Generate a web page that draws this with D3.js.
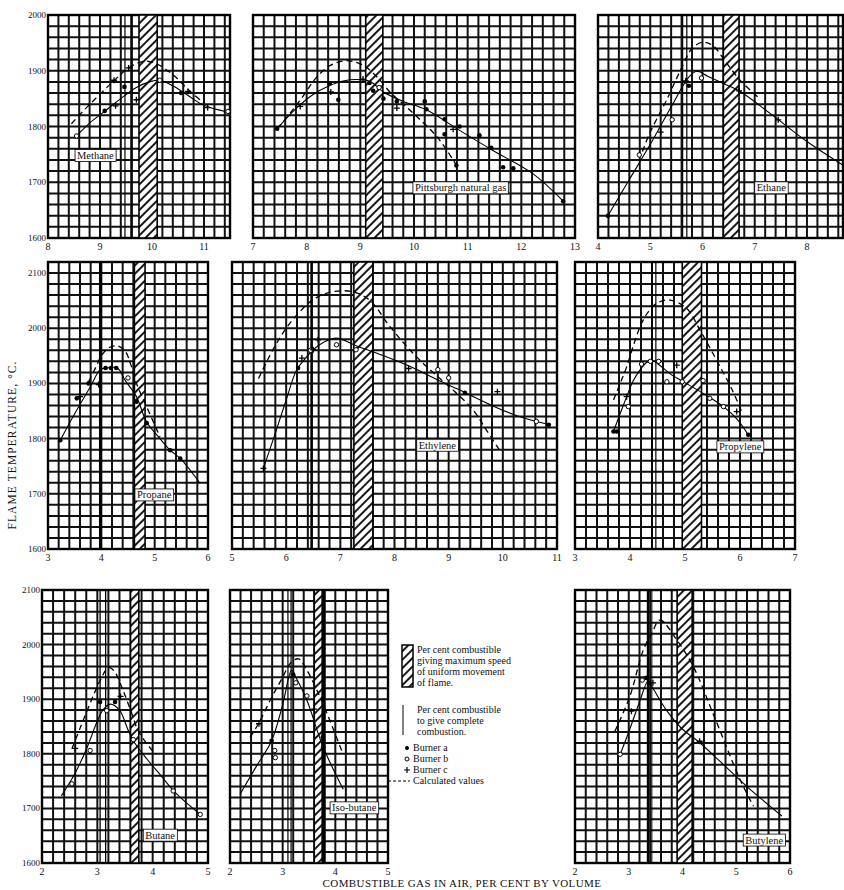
<!DOCTYPE html>
<html>
<head>
<meta charset="UTF-8">
<title>Flame temperatures</title>
<script src="https://cdn.jsdelivr.net/npm/d3@7"></script>
<style>
body { margin:0; background:#fff; }
text { font-family: "Liberation Serif", "DejaVu Serif", serif; fill:#111; }
</style>
</head>
<body>
<script>
// observed (solid) and calculated (dashed) curves, [per cent gas, deg C]
var methaneCurve = [[8.55,1783],[8.8,1806],[9.1,1828],[9.4,1850],[9.7,1870],[9.95,1880],[10.15,1883],[10.4,1873],[10.7,1855],[11.0,1838],[11.45,1826]];
var methaneCalc = [[8.45,1805],[8.7,1830],[9.0,1858],[9.3,1885],[9.55,1905],[9.85,1917],[10.1,1912],[10.4,1893],[10.7,1866],[11.0,1842]];
var methaneA = [[9.47,1871],[10.56,1860],[9.09,1828]];
var methaneB = [[8.55,1783],[11.46,1827],[10.15,1883]];
var methaneC = [[9.27,1883],[9.3,1837],[9.7,1848],[10.69,1863],[11.07,1834],[9.55,1905]];

var pittsCurve = [[7.45,1796],[7.8,1832],[8.1,1856],[8.4,1872],[8.7,1882],[9.0,1884],[9.2,1880],[9.43,1862],[9.8,1845],[10.23,1830],[10.85,1793],[11.47,1757],[12.22,1715],[12.78,1666]];
var pittsCalc = [[7.45,1796],[7.7,1825],[7.9,1850],[8.2,1890],[8.45,1910],[8.75,1918],[9.05,1910],[9.3,1890],[9.55,1862],[9.8,1840],[10.05,1818],[10.3,1795],[10.5,1773],[10.78,1732]];
var pittsA = [[7.45,1796],[8.43,1877],[8.59,1848],[9.17,1878],[9.24,1864],[9.43,1850],[9.68,1845],[10.2,1845],[10.23,1831],[10.57,1813],[10.57,1786],[10.85,1800],[11.22,1784],[11.44,1762],[11.66,1727],[11.85,1725],[10.79,1730],[12.78,1666]];
var pittsB = [[9.35,1870]];
var pittsC = [[7.88,1836],[8.45,1862],[9.05,1885],[9.68,1833],[10.73,1795]];

var ethaneCurve = [[4.19,1640],[4.6,1705],[5.0,1768],[5.4,1835],[5.75,1890],[5.9,1899],[6.1,1890],[6.4,1877],[6.7,1864],[7.3,1823],[8.0,1773],[8.7,1730]];
var ethaneCalc = [[4.85,1755],[5.0,1790],[5.3,1845],[5.6,1905],[5.8,1940],[6.0,1951],[6.2,1945],[6.45,1915],[6.75,1880],[7.1,1850]];
var ethaneA = [[5.74,1873],[4.19,1640]];
var ethaneB = [[4.79,1749],[5.42,1812],[5.98,1887]];
var ethaneC = [[5.68,1882],[5.2,1790],[6.7,1864],[7.45,1812]];

var propaneCurve = [[3.23,1797],[3.5,1845],[3.8,1895],[3.98,1925],[4.1,1928],[4.3,1928],[4.45,1905],[4.66,1876],[4.85,1830],[5.1,1800],[5.29,1779],[5.48,1764],[5.85,1719]];
var propaneCalc = [[3.76,1903],[3.9,1930],[4.0,1950],[4.15,1965],[4.3,1968],[4.45,1958],[4.55,1935],[4.66,1900],[4.85,1858],[5.1,1803]];
var propaneA = [[3.23,1797],[3.54,1873],[3.76,1900],[4.08,1928],[4.18,1928],[4.28,1928],[4.66,1867],[4.85,1828],[5.29,1779],[5.48,1764]];
var propaneB = [[4.5,1910]];
var propaneC = [[3.6,1876],[3.95,1898]];

var ethyleneCurve = [[5.58,1746],[5.8,1810],[6.0,1870],[6.19,1924],[6.35,1945],[6.5,1961],[6.7,1975],[6.93,1982],[7.3,1968],[7.8,1950],[8.35,1928],[8.8,1906],[9.27,1885],[9.8,1860],[10.3,1840],[10.87,1825]];
var ethyleneCalc = [[5.49,1909],[5.75,1960],[6.0,2000],[6.3,2035],[6.55,2055],[6.85,2066],[7.24,2066],[7.55,2050],[7.9,2005],[8.2,1970],[8.47,1942],[8.8,1912],[9.08,1888],[9.45,1852],[9.7,1815],[9.94,1779]];
var ethyleneA = [[6.22,1928],[9.3,1883],[10.85,1825]];
var ethyleneB = [[6.93,1970],[7.29,1961],[8.8,1925],[9.0,1910],[10.62,1831],[6.45,1960]];
var ethyleneC = [[6.29,1946],[6.5,1961],[6.59,1979],[8.26,1927],[9.9,1885],[5.58,1746]];

var propyleneCurve = [[3.7,1813],[3.82,1845],[3.94,1876],[4.05,1903],[4.18,1924],[4.3,1938],[4.4,1942],[4.55,1932],[4.75,1916],[4.97,1903],[5.33,1882],[5.7,1858],[5.95,1835],[6.15,1807]];
var propyleneCalc = [[3.7,1870],[3.82,1900],[3.94,1930],[4.05,1965],[4.21,2009],[4.35,2032],[4.5,2046],[4.73,2051],[5.03,2036],[5.27,1997],[5.45,1965],[5.64,1930],[5.85,1890],[6.03,1849]];
var propyleneA = [[3.7,1813],[3.76,1813],[6.15,1807]];
var propyleneB = [[3.97,1858],[4.21,1935],[4.37,1940],[4.52,1940],[4.67,1903],[4.95,1903],[5.33,1905],[5.45,1873],[5.7,1858]];
var propyleneC = [[3.94,1876],[4.85,1933],[5.94,1849]];

var butaneCurve = [[2.35,1723],[2.6,1765],[2.8,1808],[3.0,1860],[3.1,1880],[3.23,1891],[3.4,1880],[3.55,1845],[3.65,1824],[3.9,1790],[4.15,1760],[4.4,1730],[4.86,1689]];
var butaneCalc = [[2.54,1809],[2.7,1850],[2.9,1900],[3.05,1934],[3.2,1958],[3.3,1952],[3.45,1920],[3.6,1880],[3.75,1840],[4.04,1800]];
var butaneA = [[3.05,1895],[3.32,1895]];
var butaneB = [[2.54,1745],[2.87,1806],[3.17,1879],[3.65,1826],[4.37,1732],[4.86,1689]];
var butaneC = [[3.42,1905],[2.6,1810]];

var isoCurve = [[2.19,1726],[2.5,1777],[2.79,1824],[3.0,1890],[3.17,1953],[3.25,1940],[3.46,1898],[3.77,1812],[4.15,1735]];
var isoCalc = [[2.38,1830],[2.54,1855],[2.8,1905],[3.0,1940],[3.14,1965],[3.3,1974],[3.45,1955],[3.71,1904],[3.9,1860],[4.12,1806]];
var isoA = [[2.79,1824],[3.2,1945],[3.76,1830],[3.77,1812]];
var isoB = [[2.85,1806],[2.86,1793],[3.25,1930],[3.46,1906]];
var isoC = [[2.55,1855],[3.6,1882]];

var butyleneCurve = [[2.84,1799],[3.0,1840],[3.2,1895],[3.36,1933],[3.45,1920],[3.7,1880],[4.0,1845],[4.29,1823],[4.7,1786],[5.2,1740],[5.85,1686]];
var butyleneCalc = [[2.74,1841],[3.02,1905],[3.27,1990],[3.43,2021],[3.58,2045],[3.89,2009],[4.2,1960],[4.6,1866],[5.07,1753],[5.32,1704]];
var butyleneA = [[3.33,1939],[3.38,1930]];
var butyleneB = [[2.84,1799],[3.25,1935]];
var butyleneC = [[3.05,1878],[4.32,1823],[3.45,1930]];

var legendSpeed = ["Per cent combustible", "giving maximum speed", "of uniform movement", "of flame."];
var legendComplete = ["Per cent combustible", "to give complete", "combustion."];
var legendBurners = ["Burner a", "Burner b", "Burner c"];

window.onload = function(){
	var width = 844, height = 890;
	var svg = d3.select("body").append("svg").attr("width", width).attr("height", height);

	var defs = svg.append("defs");
	var pat = defs.append("pattern").attr("id","hatch").attr("patternUnits","userSpaceOnUse")
		.attr("width",6).attr("height",6).attr("patternTransform","rotate(45)");
	pat.append("rect").attr("width",6).attr("height",6).attr("fill","#fff");
	pat.append("line").attr("x1",1).attr("y1",0).attr("x2",1).attr("y2",6).attr("stroke","#000").attr("stroke-width",1.8);

	// layout of the nine small grids
	var panels = [
		{name:"Methane", curve:methaneCurve, calc:methaneCalc, pts:[methaneA,methaneB,methaneC], box:[48,230,15,238], xDom:[8,11.5], yDom:[1600,2000], xTicks:[8,9,10,11], yAxis:true, band:[9.75,10.1], lines:[[9.48,1.2],[9.62,1.2]], label:[8.52,1748]},
		{name:"Pittsburgh natural gas", curve:pittsCurve, calc:pittsCalc, pts:[pittsA,pittsB,pittsC], box:[253,575,15,238], xDom:[7,13], yDom:[1600,2000], xTicks:[7,8,9,10,11,12,13], band:[9.1,9.42], lines:[], label:[9.98,1690]},
		{name:"Ethane", curve:ethaneCurve, calc:ethaneCalc, pts:[ethaneA,ethaneB,ethaneC], box:[598,843,15,238], xDom:[4,8.69], yDom:[1600,2000], xTicks:[4,5,6,7,8], band:[6.4,6.7], lines:[[5.62,1.2],[5.7,1.2]], label:[7.0,1690]},
		{name:"Propane", curve:propaneCurve, calc:propaneCalc, pts:[propaneA,propaneB,propaneC], box:[48,208,262,549], xDom:[3,6], yDom:[1600,2120], xTicks:[3,4,5,6], yAxis:true, band:[4.62,4.82], lines:[[3.98,2.6]], label:[4.63,1698]},
		{name:"Ethylene", curve:ethyleneCurve, calc:ethyleneCalc, pts:[ethyleneA,ethyleneB,ethyleneC], box:[232,557,262,549], xDom:[5,11], yDom:[1600,2120], xTicks:[5,6,7,8,9,10,11], band:[7.25,7.6], lines:[[6.47,2.6]], label:[8.41,1788]},
		{name:"Propylene", curve:propyleneCurve, calc:propyleneCalc, pts:[propyleneA,propyleneB,propyleneC], box:[575,795,262,549], xDom:[3,7], yDom:[1600,2120], xTicks:[3,4,5,6,7], band:[4.95,5.3], lines:[[4.4,1.2],[4.47,1.2]], label:[5.58,1785]},
		{name:"Butane", curve:butaneCurve, calc:butaneCalc, pts:[butaneA,butaneB,butaneC], box:[42,208,590,863], xDom:[2,5], yDom:[1600,2100], xTicks:[2,3,4,5], yAxis:true, band:[3.6,3.75], lines:[[3.05,1.3],[3.15,1.3]], label:[3.83,1651]},
		{name:"Iso-butane", curve:isoCurve, calc:isoCalc, pts:[isoA,isoB,isoC], box:[230,388,590,863], xDom:[2,5], yDom:[1600,2100], xTicks:[2,3,4,5], band:[3.6,3.75], lines:[[3.1,1.2],[3.16,1.2],[3.78,2.6]], label:[3.9,1701]},
		{name:"Butylene", curve:butyleneCurve, calc:butyleneCalc, pts:[butyleneA,butyleneB,butyleneC], box:[575,790,590,863], xDom:[2,6], yDom:[1600,2100], xTicks:[2,3,4,5,6], band:[3.9,4.18], lines:[[3.36,2.6],[3.43,1]], label:[5.13,1642]}
	];

	panels.forEach(function(p){
		var x = d3.scaleLinear().domain(p.xDom).range([p.box[0], p.box[1]]);
		var y = d3.scaleLinear().domain(p.yDom).range([p.box[3], p.box[2]]);
		var g = svg.append("g");

		// grid: 0.2 per cent by 20 degrees
		var vx = d3.range(p.xDom[0], p.xDom[1] + 1e-6, 0.2);
		var hy = d3.range(p.yDom[0], p.yDom[1] + 1e-6, 20);
		g.selectAll(".v").data(vx).enter().append("line")
			.attr("x1", d => x(d)).attr("x2", d => x(d))
			.attr("y1", y.range()[1]).attr("y2", y.range()[0])
			.attr("stroke", "#111").attr("stroke-width", 2);
		g.selectAll(".h").data(hy).enter().append("line")
			.attr("x1", p.box[0]).attr("x2", p.box[1])
			.attr("y1", d => y(d)).attr("y2", d => y(d))
			.attr("stroke", "#111").attr("stroke-width", 2);
		g.append("rect").attr("x", p.box[0]).attr("y", p.box[2])
			.attr("width", p.box[1]-p.box[0]).attr("height", p.box[3]-p.box[2])
			.attr("fill", "none").attr("stroke", "#000").attr("stroke-width", 2.4);

		// hatched band: maximum speed of flame
		g.append("rect").attr("x", x(p.band[0])).attr("y", p.box[2])
			.attr("width", x(p.band[1]) - x(p.band[0])).attr("height", p.box[3]-p.box[2])
			.attr("fill", "url(#hatch)").attr("stroke", "#000").attr("stroke-width", 1.6);

		// complete combustion lines
		g.selectAll(".stoich").data(p.lines).enter().append("line")
			.attr("x1", d => x(d[0])).attr("x2", d => x(d[0]))
			.attr("y1", p.box[2]).attr("y2", p.box[3])
			.attr("stroke", "#000").attr("stroke-width", d => d[1]);

		var line = d3.line().x(d => x(d[0])).y(d => y(d[1])).curve(d3.curveCatmullRom.alpha(0.5));
		g.append("path").attr("d", line(p.curve)).attr("fill","none").attr("stroke","#000").attr("stroke-width",1.1);
		g.append("path").attr("d", line(p.calc)).attr("fill","none").attr("stroke","#000").attr("stroke-width",1.3).attr("stroke-dasharray","6,4");

		// burner points
		g.selectAll(".a").data(p.pts[0]).enter().append("circle")
			.attr("cx", d => x(d[0])).attr("cy", d => y(d[1])).attr("r", 2.3).attr("fill", "#000");
		g.selectAll(".b").data(p.pts[1]).enter().append("circle")
			.attr("cx", d => x(d[0])).attr("cy", d => y(d[1])).attr("r", 2.2)
			.attr("fill", "#fff").attr("stroke", "#000").attr("stroke-width", 1);
		g.selectAll(".c").data(p.pts[2]).enter().append("path")
			.attr("d", d => "M" + (x(d[0])-3) + "," + y(d[1]) + "h6M" + x(d[0]) + "," + (y(d[1])-3) + "v6")
			.attr("stroke", "#000").attr("stroke-width", 1.3);

		// name tag
		var lt = g.append("text").attr("x", x(p.label[0]) + 2).attr("y", y(p.label[1]) + 3.5)
			.attr("font-size", 10.5).text(p.name);
		var bb = lt.node().getBBox();
		g.insert("rect", function(){ return lt.node(); })
			.attr("x", bb.x - 2).attr("y", bb.y - 0.5).attr("width", bb.width + 4).attr("height", bb.height + 1)
			.attr("fill", "#fff").attr("stroke", "#000").attr("stroke-width", 0.8);

		// tick labels
		g.selectAll(".xt").data(p.xTicks).enter().append("text")
			.attr("x", d => x(d)).attr("y", p.box[3] + 12)
			.attr("text-anchor", "middle").attr("font-size", 10).text(d => d);
		if (p.yAxis) {
			var yt = d3.range(p.yDom[0], p.yDom[1] + 1, 100).filter(d => d <= 2100);
			g.selectAll(".yt").data(yt).enter().append("text")
				.attr("x", p.box[0] - 2).attr("y", d => y(d) + 3)
				.attr("text-anchor", "end").attr("font-size", 9).text(d => d);
		}
	});

	// axis titles
	svg.append("text").attr("transform", "translate(16,445)rotate(-90)")
		.attr("text-anchor", "middle").attr("font-size", 11.5).attr("letter-spacing", 1.1)
		.text("FLAME TEMPERATURE, \u00B0C.");
	svg.append("text").attr("x", 462).attr("y", 887)
		.attr("text-anchor", "middle").attr("font-size", 11).attr("letter-spacing", 0.4)
		.text("COMBUSTIBLE GAS IN AIR, PER CENT BY VOLUME");

	// legend
	var lg = svg.append("g").attr("font-size", 10);
	lg.append("rect").attr("x", 402).attr("y", 645).attr("width", 11).attr("height", 42)
		.attr("fill", "url(#hatch)").attr("stroke", "#000").attr("stroke-width", 1.5);
	lg.selectAll(".s1").data(legendSpeed).enter().append("text")
		.attr("x", 417).attr("y", (d, i) => 653 + i * 11).text(d => d);
	lg.append("line").attr("x1", 403).attr("x2", 403).attr("y1", 705).attr("y2", 735)
		.attr("stroke", "#000").attr("stroke-width", 1);
	lg.selectAll(".s2").data(legendComplete).enter().append("text")
		.attr("x", 417).attr("y", (d, i) => 713 + i * 11).text(d => d);
	lg.selectAll(".s3").data(legendBurners).enter().append("text")
		.attr("x", 413).attr("y", (d, i) => 751 + i * 11)
		.text(d => d);
	lg.append("circle").attr("cx", 407).attr("cy", 748).attr("r", 2).attr("fill", "#000");
	lg.append("circle").attr("cx", 407).attr("cy", 759).attr("r", 2).attr("fill", "#fff").attr("stroke", "#000");
	lg.append("path").attr("d", "M404,770h6M407,767v6").attr("stroke", "#000").attr("stroke-width", 1.2);
	lg.append("line").attr("x1", 388).attr("x2", 410).attr("y1", 781).attr("y2", 781)
		.attr("stroke", "#000").attr("stroke-width", 1.2).attr("stroke-dasharray", "3,2");
	lg.append("text").attr("x", 413).attr("y", 784).text("Calculated values");
};
</script>
</body>
</html>
